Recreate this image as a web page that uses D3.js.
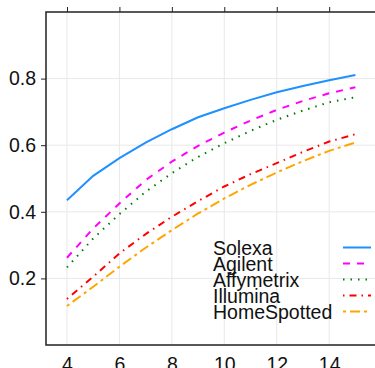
<!DOCTYPE html>
<html>
<head>
<meta charset="utf-8">
<script src="https://cdn.jsdelivr.net/npm/d3@7"></script>
<style>
  body { margin: 0; background: #fff; }
  text { font-family: "Liberation Sans", Arial, sans-serif; fill: #111; }
</style>
</head>
<body>
<div id="chart"></div>
<script>
// data
const xValues = [4, 5, 6, 7, 8, 9, 10, 11, 12, 13, 14, 15];
const solexa      = [0.435, 0.508, 0.561, 0.608, 0.648, 0.684, 0.711, 0.736, 0.759, 0.778, 0.795, 0.811];
const agilent     = [0.262, 0.350, 0.425, 0.495, 0.551, 0.598, 0.638, 0.674, 0.706, 0.733, 0.756, 0.774];
const affymetrix  = [0.233, 0.320, 0.393, 0.460, 0.516, 0.565, 0.606, 0.643, 0.676, 0.704, 0.729, 0.744];
const illumina    = [0.138, 0.205, 0.275, 0.333, 0.385, 0.432, 0.476, 0.513, 0.546, 0.580, 0.611, 0.633];
const homeSpotted = [0.117, 0.175, 0.235, 0.292, 0.345, 0.395, 0.440, 0.481, 0.518, 0.552, 0.583, 0.608];
const xTicks = [4, 6, 8, 10, 12, 14];
const yTicks = [0.2, 0.4, 0.6, 0.8];

const series = [
  { name: 'Solexa',      values: solexa,      color: '#1e90ff', dash: null },
  { name: 'Agilent',     values: agilent,     color: '#ff00ff', dash: '7,7' },
  { name: 'Affymetrix',  values: affymetrix,  color: '#007a00', dash: '1.5,6' },
  { name: 'Illumina',    values: illumina,    color: '#ff0000', dash: '1.5,5,7,5' },
  { name: 'HomeSpotted', values: homeSpotted, color: '#ffa500', dash: '3,4,10,4' }
];

const width = 375, height = 368;
const plot = { left: 46, top: 12, bottom: 345, right: 375 };
const fontSize = '19.5px';

const svg = d3.select('#chart').append('svg')
  .attr('width', width)
  .attr('height', height);

const x = d3.scaleLinear().domain([3.2, 15.75]).range([plot.left, plot.left + 12.55 * 26.22]);
const y = d3.scaleLinear().domain([0, 1]).range([plot.bottom, plot.top]);

// Grid lines
svg.append('g')
  .selectAll('line')
  .data(xTicks)
  .enter().append('line')
  .attr('x1', d => x(d)).attr('x2', d => x(d))
  .attr('y1', plot.top).attr('y2', plot.bottom)
  .attr('stroke', '#e8e8e8').attr('stroke-width', 1);

svg.append('g')
  .selectAll('line')
  .data(yTicks)
  .enter().append('line')
  .attr('x1', plot.left).attr('x2', plot.right)
  .attr('y1', d => y(d)).attr('y2', d => y(d))
  .attr('stroke', '#e8e8e8').attr('stroke-width', 1);

// Lines
const line = d3.line()
  .x((d, i) => x(xValues[i]))
  .y(d => y(d));

series.forEach(s => {
  svg.append('path')
    .datum(s.values)
    .attr('d', line)
    .attr('fill', 'none')
    .attr('stroke', s.color)
    .attr('stroke-width', 2)
    .attr('stroke-dasharray', s.dash);
});

// Y axis (left)
const yAxis = svg.append('g')
  .attr('transform', `translate(${plot.left},0)`)
  .call(d3.axisLeft(y).tickValues(yTicks).tickSize(5).tickPadding(5).tickFormat(d3.format('.1f')));
yAxis.select('.domain').remove();
yAxis.selectAll('line').attr('stroke', '#222');
yAxis.selectAll('text').style('font-size', fontSize).attr('fill', '#111');

// X axis (bottom labels)
const xAxis = svg.append('g')
  .attr('transform', `translate(0,${plot.bottom})`)
  .call(d3.axisBottom(x).tickValues(xTicks).tickSize(0).tickPadding(12));
xAxis.select('.domain').remove();
xAxis.selectAll('text').style('font-size', fontSize).attr('fill', '#111');

// Top ticks
const xTop = svg.append('g')
  .attr('transform', `translate(0,${plot.top})`)
  .call(d3.axisTop(x).tickValues(xTicks).tickSize(5).tickFormat(''));
xTop.select('.domain').remove();
xTop.selectAll('line').attr('stroke', '#222');

// Frame
svg.append('path')
  .attr('d', `M${plot.right},${plot.top}H${plot.left}V${plot.bottom}H${plot.right}`)
  .attr('fill', 'none')
  .attr('stroke', '#222')
  .attr('stroke-width', 1.5);

// Legend
const legend = svg.append('g');
series.forEach((s, i) => {
  const cy = 247.5 + i * 16;
  legend.append('text')
    .attr('x', 213)
    .attr('y', cy + 7)
    .style('font-size', fontSize)
    .text(s.name);
  legend.append('line')
    .attr('x1', 343).attr('x2', 371)
    .attr('y1', cy).attr('y2', cy)
    .attr('stroke', s.color)
    .attr('stroke-width', 2)
    .attr('stroke-dasharray', s.dash);
});
</script>
</body>
</html>
